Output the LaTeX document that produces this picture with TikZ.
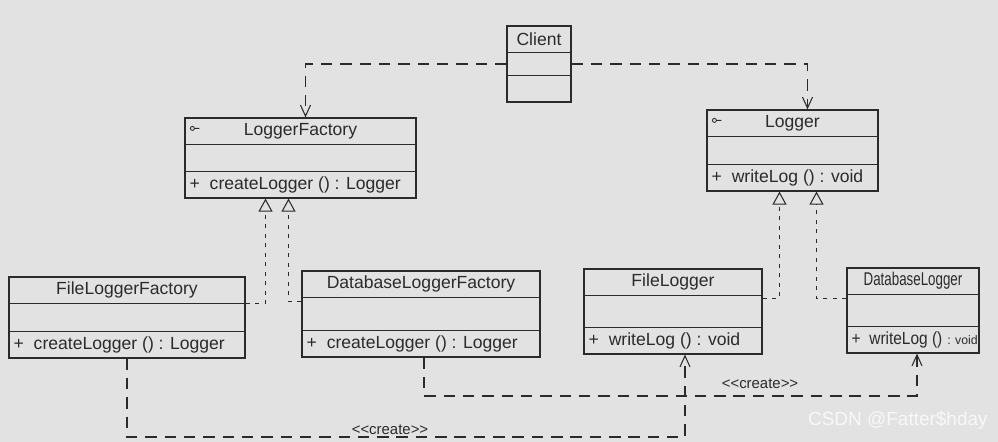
\documentclass[tikz,border=0pt]{standalone}
\usepackage{fontspec}
\setmainfont{Liberation Sans}
\usepackage{graphicx}
\usepackage{xcolor}
\definecolor{cLine}{HTML}{2B2B2B}
\definecolor{cPaper}{HTML}{E2E2E2}
\definecolor{cMark}{HTML}{F8F8F8}
\usetikzlibrary{positioning,arrows.meta,fit,calc}
\tikzset{
  class-box/.style={draw=cLine,line width=0.7pt,inner sep=0pt},
  class-line/.style={draw=cLine,line width=0.7pt},
  class-title/.style={inner sep=0pt,font=\fontsize{10}{12}\selectfont,text=cLine},
  class-op/.style={inner sep=0pt,anchor=west,font=\fontsize{10}{12}\selectfont,text=cLine},
  arrow-dep/.style={-{Straight Barb[length=2.2mm,width=2mm]},line width=0.6pt,
    draw=cLine,dash pattern=on 6.5pt off 4.5pt},
  arrow-real/.style={-{Triangle[open,length=2.6mm,width=2.8mm]},line width=0.6pt,
    draw=cLine,dash pattern=on 2.4pt off 3pt},
  label-stereo/.style={font=\fontsize{8.5}{10}\selectfont,text=cLine,inner sep=1pt},
}
% name, left, top, right, bottom, title, operation
\newcommand{\umlclass}[7]{%
  \node[class-box,fit={(#2,#3) (#4,#5)}] (#1) {};
  \draw[class-line] ($(#1.north west)+(0,27)$) -- ($(#1.north east)+(0,27)$);
  \draw[class-line] ($(#1.south west)+(0,-27)$) -- ($(#1.south east)+(0,-27)$);
  \node[class-title] (#1-name) at ($(#1.north)+(0,13.5)$) {#6};
  \node[class-op] (#1-op) at ($(#1.south west)+(5,-13.5)$) {#7};
}
% abstract marker in the title compartment
\newcommand{\absmark}[1]{%
  \draw[class-line,line width=0.5pt] ($(#1.north west)+(8,11)$) circle[radius=2]
    ++(2,0) -- ++(5,0);
}
\newcommand{\stereo}[1]{<\kern0pt<#1>\kern0pt>}

\begin{document}
\begin{tikzpicture}[x=0.02cm,y=-0.02cm]
  \fill[cPaper] (0,0) rectangle (998,442);
  \useasboundingbox (0,0) rectangle (998,442);

  \umlclass{client}{507}{26}{571}{102}{Client}{}
  \umlclass{lf}{185}{118}{416}{198}{LoggerFactory}{+ \ createLogger () : Logger}
  \umlclass{logger}{707}{110}{878}{191}{Logger}{+ \ writeLog () : void}
  \umlclass{flf}{9}{277}{245}{358}{FileLoggerFactory}{+ \ createLogger () : Logger}
  \umlclass{dlf}{302}{271}{540}{357}{DatabaseLoggerFactory}{+ \ createLogger () : Logger}
  \umlclass{fl}{584}{269}{762}{354}{FileLogger}{+ \ writeLog () : void}
  \umlclass{dl}{847}{268}{979}{353}{\scalebox{0.76}[1.05]{DatabaseLogger}}%
    {\scalebox{0.88}[1]{+ \ writeLog ()} {\scriptsize : void}}
  \absmark{lf}
  \absmark{logger}

  % client uses the factory and the logger
  \draw[arrow-dep] (client.west) -| ($(lf.north)+(5,0)$);
  \draw[arrow-dep] (client.east) -| ($(logger.north)+(15,0)$);

  % realizations
  \draw[arrow-real] ($(flf.north east)+(0,27)$) -| ($(lf.south)+(-35,0)$);
  \draw[arrow-real] ($(dlf.north west)+(0,31)$) -| ($(lf.south)+(-12,0)$);
  \draw[arrow-real] ($(fl.north east)+(0,30)$) -| ($(logger.south)+(-13,0)$);
  \draw[arrow-real] ($(dl.north west)+(0,31)$) -| ($(logger.south)+(24,0)$);

  % creation
  \coordinate (cr1) at (390,437);
  \coordinate (cr2) at (760,396);
  \draw[arrow-dep] (flf.south) |- (cr1) -| ($(fl.south)+(12,0)$);
  \draw[arrow-dep] ($(dlf.south)+(3,0)$) |- (cr2) -| ($(dl.south)+(4,0)$);
  \node[label-stereo,above=0pt of cr1] (lbl1) {\stereo{create}};
  \node[label-stereo,above=3pt of cr2] (lbl2) {\stereo{create}};

  \node[font=\fontsize{10.8}{13}\selectfont,text=cMark,anchor=east,inner sep=0pt]
    (mark) at (988,420) {CSDN @Fatter\$hday};
\end{tikzpicture}
\end{document}
